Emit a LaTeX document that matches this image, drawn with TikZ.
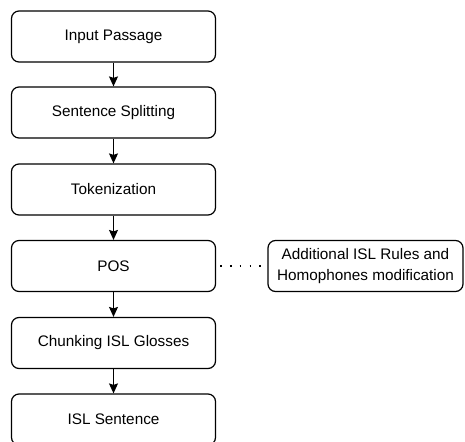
\documentclass[tikz,border=0pt]{standalone}
\usepackage{fontspec}
\setmainfont{Liberation Sans}
\usetikzlibrary{positioning, arrows.meta}

\begin{document}
\begin{tikzpicture}[x=1pt, y=-1pt,
  stage/.style={draw, rounded corners=7.5pt, line width=1.2pt, minimum width=204pt, minimum height=51pt, inner sep=0pt, align=center, font=\fontsize{15.3}{20.5}\selectfont},
  flow/.style={line width=1.2pt, -{Stealth[length=10pt, width=9pt, inset=1.5pt]}}]

% Frame (bottom box runs off the edge)
\useasboundingbox (0,0) rectangle (465,441);
\clip (0,0) rectangle (465,441);

% Pipeline
\node[stage] (input) at (113.5,36.5) {Input Passage};
\node[stage] (split) at (113.5,112.5) {Sentence Splitting};
\node[stage] (token) at (113.5,189.5) {Tokenization};
\node[stage] (pos) at (113.5,266) {POS};
\node[stage] (chunk) at (113.5,343) {Chunking ISL Glosses};
\node[stage] (isl) at (113.5,419.5) {ISL Sentence};

% Side note
\node[stage, minimum width=195pt] (rules) at (365.5,266) {Additional ISL Rules and\\Homophones modification};

% Edges
\draw[flow] (input) -- (split);
\draw[flow] (split) -- (token);
\draw[flow] (token) -- (pos);
\draw[flow] (pos) -- (chunk);
\draw[flow] (chunk) -- (isl);
\draw[line width=1.6pt, dash pattern=on 1.6pt off 8.2pt, dash phase=-4pt] (pos) -- (rules);

\end{tikzpicture}
\end{document}
